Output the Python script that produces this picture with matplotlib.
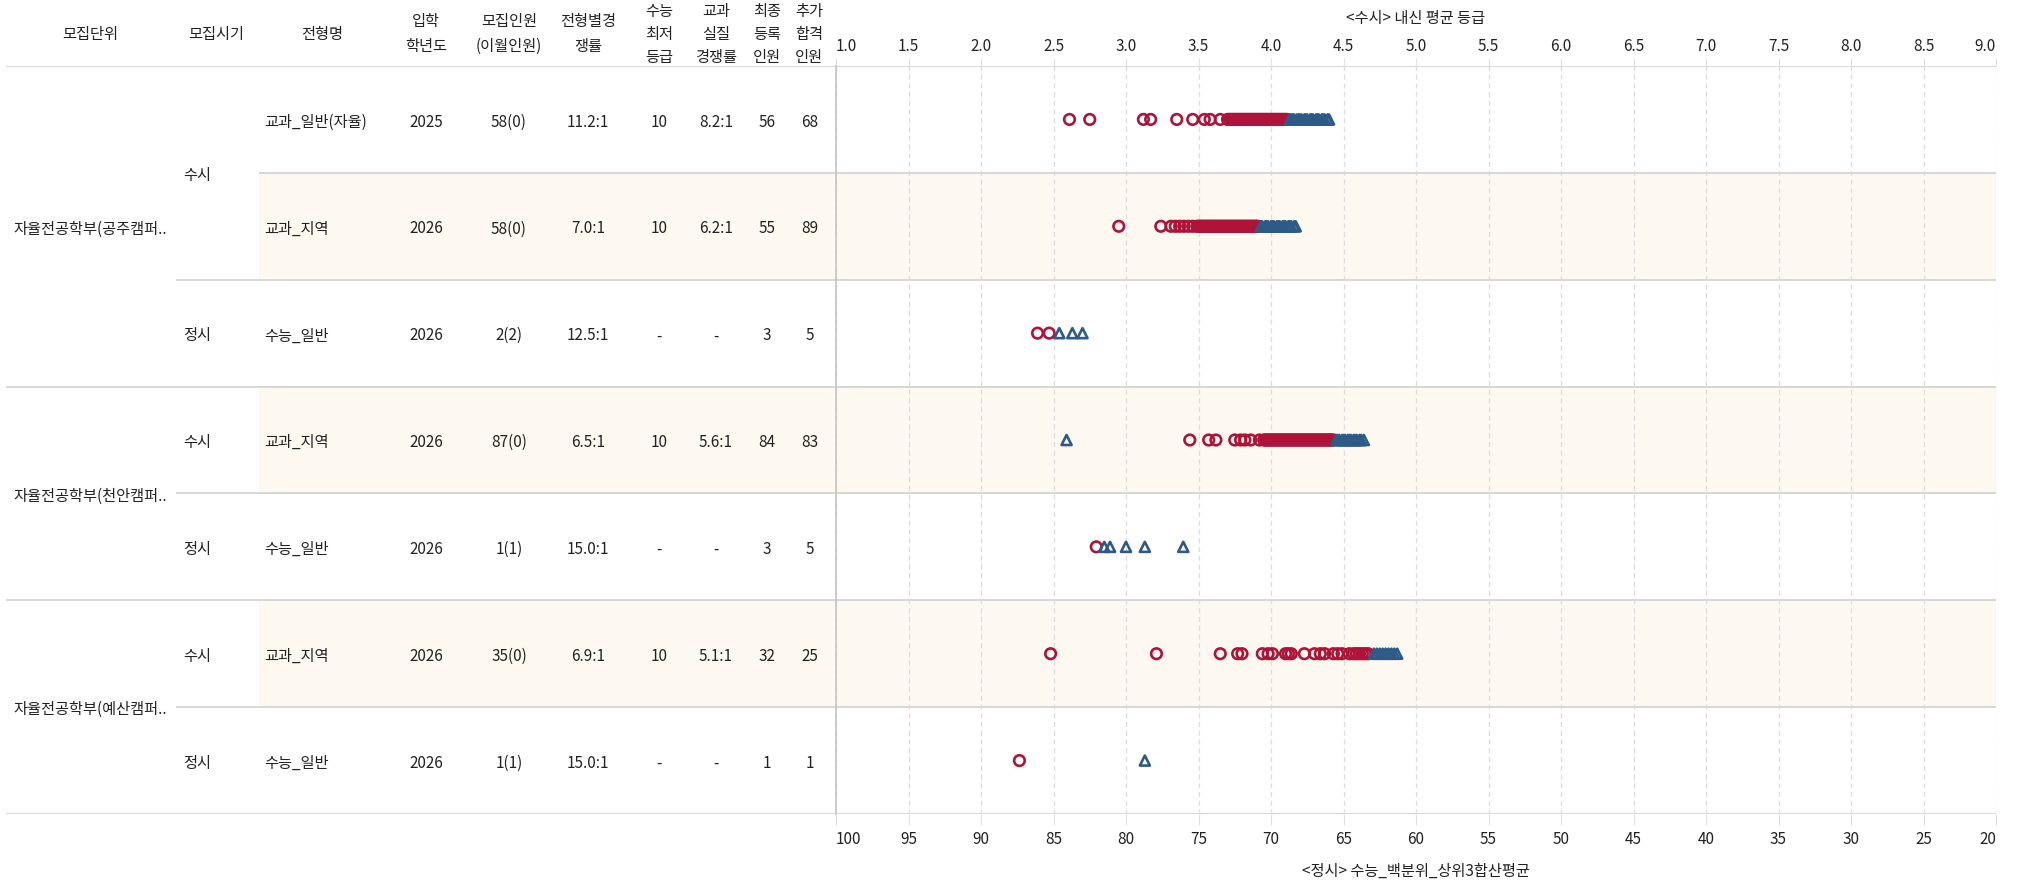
import matplotlib.pyplot as plt

plt.rcParams['font.family'] = ['Noto Sans CJK KR', 'DejaVu Sans']

# ---- table data (one entry per row) ----
headers = ["모집단위", "모집시기", "전형명", "입학\n학년도", "모집인원\n(이월인원)", "전형별경\n쟁률",
           "수능\n최저\n등급", "교과\n실질\n경쟁률", "최종\n등록\n인원", "추가\n합격\n인원"]
units = ["자율전공학부(공주캠퍼..", "자율전공학부(공주캠퍼..", "자율전공학부(공주캠퍼..",
         "자율전공학부(천안캠퍼..", "자율전공학부(천안캠퍼..",
         "자율전공학부(예산캠퍼..", "자율전공학부(예산캠퍼.."]
periods = ["수시", "수시", "정시", "수시", "정시", "수시", "정시"]
types = ["교과_일반(자율)", "교과_지역", "수능_일반", "교과_지역", "수능_일반", "교과_지역", "수능_일반"]
years = ["2025", "2026", "2026", "2026", "2026", "2026", "2026"]
quota = ["58(0)", "58(0)", "2(2)", "87(0)", "1(1)", "35(0)", "1(1)"]
comp = ["11.2:1", "7.0:1", "12.5:1", "6.5:1", "15.0:1", "6.9:1", "15.0:1"]
min_grade = ["10", "10", "-", "10", "-", "10", "-"]
real_comp = ["8.2:1", "6.2:1", "-", "5.6:1", "-", "5.1:1", "-"]
registered = ["56", "55", "3", "84", "3", "32", "1"]
extra = ["68", "89", "5", "83", "5", "25", "1"]

# ---- scatter data: 수시 rows in 내신 등급, 정시 rows in 백분위 ----
gongju_ilban_reg = [2.61, 2.75, 3.12, 3.17, 3.35, 3.46, 3.54, 3.58, 3.65,
                    3.70, 3.71, 3.72, 3.73, 3.74, 3.75, 3.76, 3.77, 3.78, 3.79, 3.80, 3.81,
                    3.82, 3.83, 3.84, 3.85, 3.86, 3.87, 3.88, 3.89, 3.90, 3.91, 3.92, 3.93,
                    3.94, 3.95, 3.96, 3.97, 3.98, 3.99, 4.00, 4.01, 4.02, 4.03, 4.04, 4.05,
                    4.06, 4.07, 4.08, 4.09, 4.10, 4.11]
gongju_ilban_add = [4.13, 4.14, 4.15, 4.16, 4.18, 4.19, 4.20, 4.21, 4.23, 4.24, 4.25, 4.27,
                    4.28, 4.29, 4.31, 4.32, 4.33, 4.35, 4.36, 4.37, 4.39, 4.40]
gongju_jiyeok_reg = [2.95, 3.24, 3.31, 3.34, 3.37, 3.40, 3.43, 3.46,
                     3.49, 3.50, 3.51, 3.52, 3.53, 3.54, 3.55, 3.56, 3.57, 3.58, 3.59, 3.60,
                     3.61, 3.62, 3.63, 3.64, 3.65, 3.66, 3.67, 3.68, 3.69, 3.70, 3.71, 3.72,
                     3.73, 3.74, 3.75, 3.76, 3.77, 3.78, 3.79, 3.80, 3.81, 3.82, 3.83, 3.84,
                     3.85, 3.86, 3.87, 3.88, 3.89, 3.90, 3.91]
gongju_jiyeok_add = [3.93, 3.94, 3.96, 3.97, 3.98, 4.00, 4.01, 4.02, 4.04, 4.05, 4.06, 4.08,
                     4.09, 4.10, 4.12, 4.13, 4.14, 4.16, 4.17]
gongju_jeongsi_reg = [86.1, 85.3]
gongju_jeongsi_add = [84.6, 83.7, 83.0]
cheonan_susi_reg = [3.44, 3.57, 3.62, 3.75, 3.79, 3.82, 3.86, 3.92,
                    3.95, 3.96, 3.97, 3.98, 3.99, 4.00, 4.01, 4.02, 4.03, 4.04, 4.05, 4.06,
                    4.07, 4.08, 4.09, 4.10, 4.11, 4.12, 4.13, 4.14, 4.15, 4.16, 4.17, 4.18,
                    4.19, 4.20, 4.21, 4.22, 4.23, 4.24, 4.25, 4.26, 4.27, 4.28, 4.29, 4.30,
                    4.31, 4.32, 4.33, 4.34, 4.35, 4.36, 4.37, 4.38, 4.39, 4.40, 4.41, 4.42, 4.43]
cheonan_susi_add = [2.59, 4.45, 4.46, 4.47, 4.49, 4.50, 4.51, 4.53, 4.54, 4.55, 4.57, 4.58,
                    4.59, 4.61, 4.62, 4.64]
cheonan_jeongsi_reg = [82.05]
cheonan_jeongsi_add = [81.5, 81.1, 80.0, 78.7, 76.05]
yesan_susi_reg = [2.48, 3.21, 3.65, 3.77, 3.80, 3.94, 3.98, 4.01, 4.10, 4.12, 4.14, 4.23, 4.30,
                  4.34, 4.37, 4.43, 4.46, 4.49, 4.54, 4.57, 4.59, 4.61, 4.63, 4.65, 4.67]
yesan_susi_add = [4.71, 4.73, 4.75, 4.77, 4.79, 4.81, 4.83, 4.85, 4.87]
yesan_jeongsi_reg = [87.35]
yesan_jeongsi_add = [78.7]

reg_by_row = [gongju_ilban_reg, gongju_jiyeok_reg, gongju_jeongsi_reg, cheonan_susi_reg,
              cheonan_jeongsi_reg, yesan_susi_reg, yesan_jeongsi_reg]
add_by_row = [gongju_ilban_add, gongju_jiyeok_add, gongju_jeongsi_add, cheonan_susi_add,
              cheonan_jeongsi_add, yesan_susi_add, yesan_jeongsi_add]

grade_ticks = [1.0, 1.5, 2.0, 2.5, 3.0, 3.5, 4.0, 4.5, 5.0, 5.5, 6.0, 6.5, 7.0, 7.5, 8.0, 8.5, 9.0]
pct_ticks = [100, 95, 90, 85, 80, 75, 70, 65, 60, 55, 50, 45, 40, 35, 30, 25, 20]

# ---- layout ----
W, H = 2019, 880
top_px, bot_px = 66, 814
plot_l, plot_r = 836, 1996
n = len(types)
row_h = (bot_px - top_px) / n
red, blue = "#AE1439", "#2D5A87"
cream, line_c, txt_c = "#FDF9F1", "#D4D4D4", "#222222"
fs = 11
dy = 0.025  # small nudge so CJK text sits on the row centre


def py(p):
    # pixel y -> row units of the table axes
    return (p - top_px) / row_h


fig = plt.figure(figsize=(W / 100, H / 100), dpi=100)

tab = fig.add_axes([0, 1 - bot_px / H, 1, (bot_px - top_px) / H])
tab.set_xlim(0, W)
tab.set_ylim(n, 0)
tab.axis('off')

# shading and separators
for i in range(n):
    if i % 2 == 1:
        tab.axhspan(i, i + 1, xmin=259 / W, xmax=plot_r / W, color=cream, lw=0, zorder=0)
tab.hlines(0, 6, plot_r, color=line_c, lw=1.3)
for i in range(1, n + 1):
    if i == n or units[i] != units[i - 1]:
        x0 = 6
    elif periods[i] != periods[i - 1]:
        x0 = 176
    else:
        x0 = 259
    tab.hlines(i, x0, plot_r, color=line_c, lw=1.3)

# header
head_x = [90, 216, 322, 426, 509, 588, 659, 716, 767, 809]
for x, h in zip(head_x, headers):
    lines = h.split("\n")
    k = len(lines)
    gap = 24.5 if k == 2 else 23
    c = 34 if k == 2 else 34
    if k == 1:
        c = 34
    for j, ln in enumerate(lines):
        y = c + (j - (k - 1) / 2) * gap
        tab.text(x, py(y), ln, ha='center', va='center', fontsize=fs, color=txt_c, clip_on=False)

# merged cells: units and periods
i = 0
while i < n:
    j = i
    while j + 1 < n and units[j + 1] == units[i]:
        j += 1
    tab.text(13, (i + j + 1) / 2 + dy, units[i], ha='left', va='center', fontsize=fs, color=txt_c)
    i = j + 1
i = 0
while i < n:
    j = i
    while j + 1 < n and units[j + 1] == units[i] and periods[j + 1] == periods[i]:
        j += 1
    tab.text(183, (i + j + 1) / 2 + dy, periods[i], ha='left', va='center', fontsize=fs, color=txt_c)
    i = j + 1

cols = [years, quota, comp, min_grade, real_comp, registered, extra]
col_x = [426, 509, 588, 659, 716, 767, 810]
for r in range(n):
    tab.text(264, r + 0.5 + dy, types[r], ha='left', va='center', fontsize=fs, color=txt_c)
    for x, col in zip(col_x, cols):
        tab.text(x, r + 0.5 + dy, col[r], ha='center', va='center', fontsize=fs, color=txt_c)

# ---- plot area ----
ax = fig.add_axes([plot_l / W, 1 - bot_px / H, (plot_r - plot_l) / W, (bot_px - top_px) / H],
                  facecolor='none')
ax.set_xlim(1, 9)
ax.set_ylim(n, 0)
ax2 = ax.twiny()
ax2.set_xlim(100, 20)

ax.xaxis.tick_top()
ax.xaxis.set_label_position('top')
ax.set_xticks(grade_ticks)
tl = ax.set_xticklabels([f"{t:.1f}" for t in grade_ticks])
tl[0].set_ha('left')
tl[-1].set_ha('right')
ax.set_xlabel("<수시> 내신 평균 등급", fontsize=fs, color=txt_c, labelpad=11)
ax.tick_params(axis='x', length=6, color="#E0E0E0", pad=2, labelsize=fs, labelcolor=txt_c)
ax.set_yticks([])

ax2.xaxis.tick_bottom()
ax2.xaxis.set_label_position('bottom')
ax2.set_xticks(pct_ticks)
tl2 = ax2.set_xticklabels([str(t) for t in pct_ticks])
tl2[0].set_ha('left')
tl2[-1].set_ha('right')
ax2.set_xlabel("<정시> 수능_백분위_상위3합산평균", fontsize=fs, color=txt_c, labelpad=11)
ax2.tick_params(axis='x', length=8, color="#E0E0E0", pad=4, labelsize=fs, labelcolor=txt_c)

for s in ['top', 'right', 'bottom']:
    ax.spines[s].set_visible(False)
ax.spines['left'].set_color("#C8C8C8")
ax.spines['left'].set_linewidth(1.3)
for s in ax2.spines.values():
    s.set_visible(False)

ax.grid(axis='x', linestyle=(0, (4, 3)), color="#DCDCDC", lw=0.9)
ax.set_axisbelow(True)

for r in range(n):
    target = ax if periods[r] == "수시" else ax2
    target.scatter(reg_by_row[r], [r + 0.5] * len(reg_by_row[r]), marker='o', s=58,
                   facecolors='none', edgecolors=red, linewidths=1.9, zorder=3, clip_on=False)
    target.scatter(add_by_row[r], [r + 0.5] * len(add_by_row[r]), marker='^', s=52,
                   facecolors='none', edgecolors=blue, linewidths=1.9, zorder=4, clip_on=False)

fig.savefig("out.png", dpi=100)
